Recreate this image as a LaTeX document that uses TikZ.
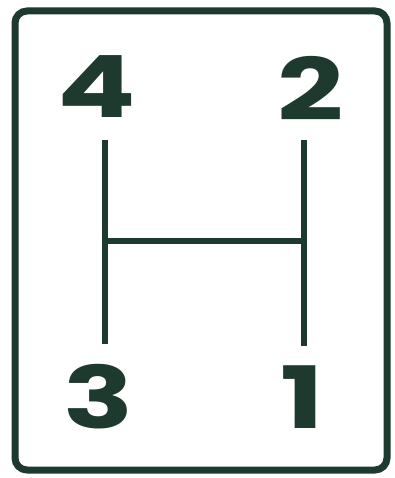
\documentclass[tikz,border=0pt]{standalone}
\usepackage{fontspec}
\setmainfont{Poppins}[UprightFont=* Bold]
\definecolor{ink}{HTML}{1E3A2E}
\begin{document}
\begin{tikzpicture}[x=1pt,y=-1pt,
  digit/.style={inner sep=0pt, text=ink, font=\fontsize{86}{86}\selectfont},
  gate/.style={draw=ink, line width=5.5pt}]
\useasboundingbox (0,0) rectangle (394,478);
\fill[white] (0,0) rectangle (394,478);
\draw[ink, line width=7pt, rounded corners=12pt] (15,11) rectangle (387,470);
\node[digit] (g4) at (97,87) {\scalebox{1.35}[1]{4}};
\node[digit] (g2) at (311,88) {\scalebox{1.35}[1]{2}};
\node[digit] (g3) at (99,397) {\scalebox{1.35}[1]{3}};
\node[digit] (g1) at (302,397) {\scalebox{1.35}[1]{1}};
\coordinate (a4) at (105,140);
\coordinate (a3) at (105,344);
\coordinate (a2) at (304,140);
\coordinate (a1) at (304,346);
\coordinate (m4) at (105,241);
\coordinate (m2) at (304,241);
\draw[gate] (a4) -- (a3);
\draw[gate] (a2) -- (a1);
\draw[gate] (m4) -- (m2);
\end{tikzpicture}
\end{document}
